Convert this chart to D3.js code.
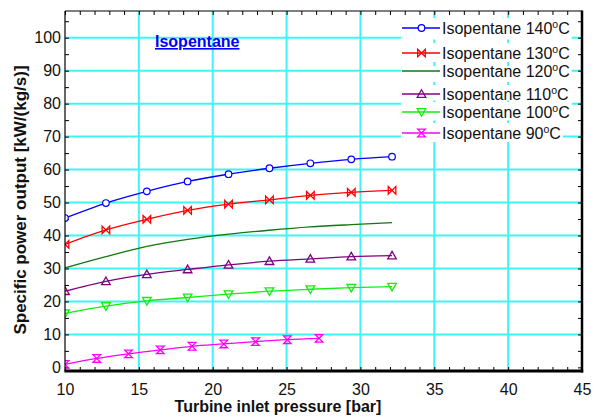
<!DOCTYPE html>
<html><head><meta charset="utf-8">
<script src="https://cdn.jsdelivr.net/npm/d3@7"></script>
<style>
html,body{margin:0;padding:0;background:#fff;}
svg{display:block;font-family:"Liberation Sans",Arial,sans-serif;}
</style></head>
<body><svg id="c" width="596" height="419"></svg>
<script>
// ---- data ----
const pressures   = [10, 12.77, 15.54, 18.3, 21.07, 23.84, 26.61, 29.38, 32.14];
const pressures90 = [10, 12.15, 14.3, 16.45, 18.6, 20.75, 22.9, 25.05, 27.2];
const iso140 = [45.3, 49.85, 53.4, 56.4, 58.6, 60.4, 61.9, 63.1, 63.9];
const iso130 = [37.3, 41.7, 44.9, 47.6, 49.5, 50.8, 52.2, 53.1, 53.7];
const iso120 = [30.2, 33.6, 36.7, 38.8, 40.4, 41.6, 42.6, 43.3, 43.9];
const iso110 = [23.1, 26.1, 28.2, 29.7, 31.1, 32.2, 32.9, 33.6, 33.9];
const iso100 = [16.4, 18.6, 20.2, 21.2, 22.2, 23.1, 23.7, 24.2, 24.5];
const iso90  = [0.9, 2.7, 4.1, 5.3, 6.4, 7.1, 7.8, 8.4, 8.8];
const seriesTemps = ["140", "130", "120", "110", "100", "90"];
const seriesName = "Isopentane";
const xTicks = [10, 15, 20, 25, 30, 35, 40, 45];
const yTicks = [0, 10, 20, 30, 40, 50, 60, 70, 80, 90, 100];
const xLabel = "Turbine inlet pressure [bar]";
const yLabel = "Specific power output [kW/(kg/s)]";
const chartTitle = "Isopentane";

const series = [
  {t: seriesTemps[0], xs: pressures,   ys: iso140, color: "#0000ff", marker: "circle"},
  {t: seriesTemps[1], xs: pressures,   ys: iso130, color: "#ff0000", marker: "bowtie"},
  {t: seriesTemps[2], xs: pressures,   ys: iso120, color: "#117711", marker: null},
  {t: seriesTemps[3], xs: pressures,   ys: iso110, color: "#800080", marker: "triUp"},
  {t: seriesTemps[4], xs: pressures,   ys: iso100, color: "#11ee11", marker: "triDown"},
  {t: seriesTemps[5], xs: pressures90, ys: iso90,  color: "#ff00ff", marker: "hourglass"}
];

const svg = d3.select("#c");
const L = 65, R = 582, T = 11, B = 371;
const x = d3.scaleLinear().domain([10, 45]).range([L, R]);
const y = d3.scaleLinear().domain([-1.1, 108.1]).range([B, T]);

svg.append("defs").append("clipPath").attr("id", "clip")
  .append("rect").attr("x", L).attr("y", T).attr("width", R - L).attr("height", B - T);

// grid
const gridC = "#40f4f4";
svg.append("g").selectAll("line").data(xTicks.filter(v => v > 10 && v < 45)).join("line")
  .attr("x1", d => x(d)).attr("x2", d => x(d)).attr("y1", T).attr("y2", B)
  .attr("stroke", gridC).attr("stroke-width", 2);
svg.append("g").selectAll("line").data(yTicks.filter(v => v > 0)).join("line")
  .attr("x1", L).attr("x2", R).attr("y1", d => y(d)).attr("y2", d => y(d))
  .attr("stroke", gridC).attr("stroke-width", 2);

// minor ticks
const minorX = d3.range(10, 46, 1);
const minorY = d3.range(0, 110, 5);
function styleTicks(g) { g.select(".domain").remove(); g.selectAll("line").attr("stroke", "#000"); g.selectAll("text").remove(); }
svg.append("g").attr("transform", `translate(0,${B})`).call(d3.axisBottom(x).tickValues(minorX).tickSize(-4)).call(styleTicks);
svg.append("g").attr("transform", `translate(0,${T})`).call(d3.axisTop(x).tickValues(minorX).tickSize(-4)).call(styleTicks);
svg.append("g").attr("transform", `translate(${L},0)`).call(d3.axisLeft(y).tickValues(minorY).tickSize(-4)).call(styleTicks);
svg.append("g").attr("transform", `translate(${R},0)`).call(d3.axisRight(y).tickValues(minorY).tickSize(-4)).call(styleTicks);

// labels
const xa = svg.append("g").attr("transform", `translate(0,${B})`)
  .call(d3.axisBottom(x).tickValues(xTicks).tickSize(0).tickPadding(13));
xa.select(".domain").remove();
xa.selectAll("text").attr("font-size", 16).attr("font-family", "Liberation Sans, Arial").attr("fill", "#111");
const ya = svg.append("g").attr("transform", `translate(${L},0)`)
  .call(d3.axisLeft(y).tickValues(yTicks).tickSize(0).tickPadding(4));
ya.select(".domain").remove();
ya.selectAll("text").attr("font-size", 16).attr("font-family", "Liberation Sans, Arial").attr("fill", "#111");

// markers
const s = 3.8;
const markerPath = {
  bowtie: `M${-s},${-s}L${s},${s}L${s},${-s}L${-s},${s}Z`,
  hourglass: `M${-s},${-s}L${s},${-s}L${-s},${s}L${s},${s}Z`,
  triUp: `M0,${-s-0.5}L${s+0.5},${s-0.5}L${-s-0.5},${s-0.5}Z`,
  triDown: `M0,${s+0.5}L${s+0.5},${-s+0.5}L${-s-0.5},${-s+0.5}Z`
};
function drawMarker(g, type, color, px, py) {
  if (!type) return;
  if (type === "circle") {
    g.append("circle").attr("cx", px).attr("cy", py).attr("r", 3.3)
      .attr("fill", "#fff").attr("stroke", color).attr("stroke-width", 1.2);
  } else {
    g.append("path").attr("d", markerPath[type]).attr("transform", `translate(${px},${py})`)
      .attr("fill", "none").attr("stroke", color).attr("stroke-width", 1.3);
  }
}

const plot = svg.append("g").attr("clip-path", "url(#clip)");
const line = d3.line().curve(d3.curveMonotoneX).x(d => x(d[0])).y(d => y(d[1]));
series.forEach(sr => {
  const pts = sr.xs.map((v, i) => [v, sr.ys[i]]);
  plot.append("path").datum(pts).attr("d", line).attr("fill", "none")
    .attr("stroke", sr.color).attr("stroke-width", 1.3);
  pts.forEach(p => drawMarker(plot, sr.marker, sr.color, x(p[0]), y(p[1])));
});

// axis frame
svg.append("line").attr("x1", L).attr("x2", L).attr("y1", T).attr("y2", B).attr("stroke", "#000").attr("stroke-width", 1.2);
svg.append("line").attr("x1", L).attr("x2", R).attr("y1", T).attr("y2", T).attr("stroke", "#000").attr("stroke-width", 1.2);
svg.append("line").attr("x1", R).attr("x2", R).attr("y1", T - 0.6).attr("y2", B + 1.5).attr("stroke", "#000").attr("stroke-width", 2.5);
svg.append("line").attr("x1", L - 0.6).attr("x2", R + 1.2).attr("y1", B).attr("y2", B).attr("stroke", "#000").attr("stroke-width", 3);

// chart title
svg.append("text").attr("x", 155).attr("y", 47).attr("font-size", 16).attr("font-weight", "bold")
  .attr("fill", "#0000ff").attr("text-decoration", "underline").text(chartTitle);

// legend
const rowY = [28, 53, 71, 94, 112, 133];
const rowBg = [[18, 39.5], [43, 62], [66, 82], [85, 100.5], [102, 120.5], [123, 142]];
const lg = svg.append("g");
series.forEach((sr, i) => {
  const gy = rowY[i];
  const bgRect = lg.append("rect").attr("x", 401).attr("y", rowBg[i][0])
    .attr("height", rowBg[i][1] - rowBg[i][0]).attr("fill", "#fff");
  lg.append("line").attr("x1", 402).attr("x2", 440).attr("y1", gy).attr("y2", gy)
    .attr("stroke", sr.color).attr("stroke-width", 1.3);
  drawMarker(lg, sr.marker, sr.color, 421.5, gy);
  const tx = lg.append("text").attr("x", 442).attr("y", gy + 6).attr("font-size", 16).attr("fill", "#111");
  tx.append("tspan").text(`${seriesName} ${sr.t}`);
  tx.append("tspan").attr("font-size", 10.5).attr("dy", -6.5).text("o");
  tx.append("tspan").attr("dy", 6.5).text("C");
  const w = tx.node().getComputedTextLength();
  bgRect.attr("width", 442 + w + 2 - 401);
});

// axis titles
svg.append("text").attr("x", 278).attr("y", 412).attr("text-anchor", "middle")
  .attr("font-size", 16).attr("font-weight", "bold").attr("fill", "#111").text(xLabel);
svg.append("text").attr("transform", "translate(26,200) rotate(-90)").attr("text-anchor", "middle")
  .attr("font-size", 17).attr("font-weight", "bold").attr("fill", "#111").text(yLabel);
</script>
</body></html>
